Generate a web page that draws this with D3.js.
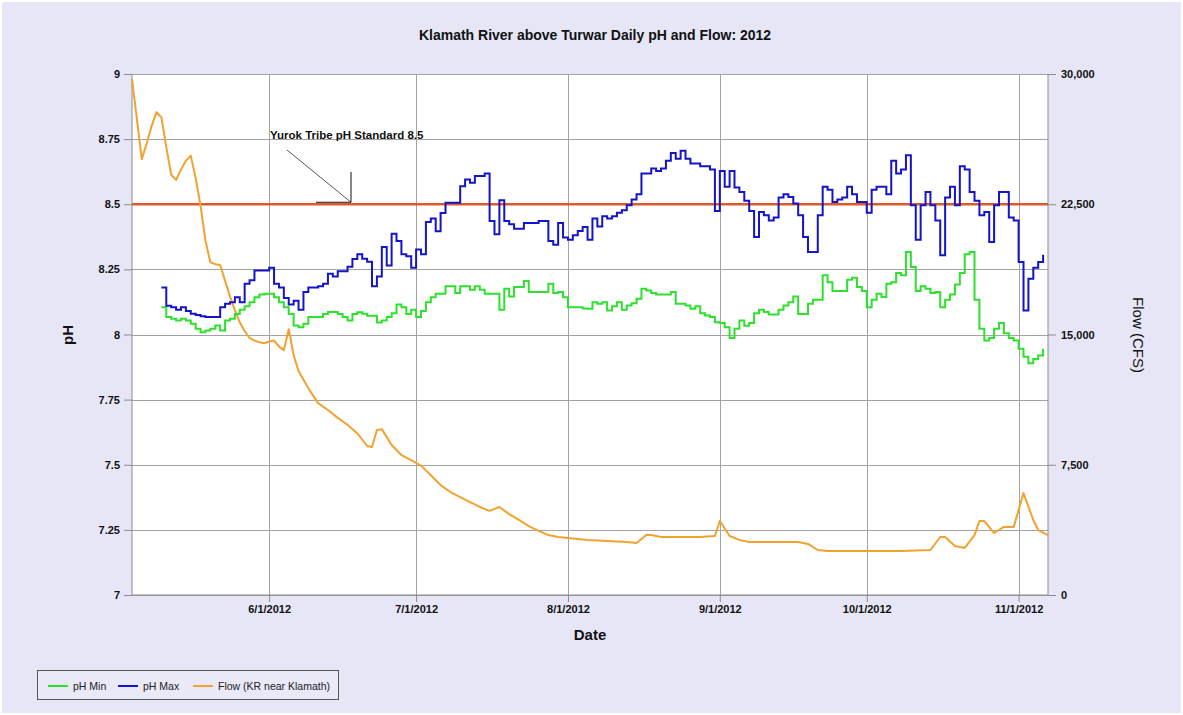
<!DOCTYPE html>
<html><head><meta charset="utf-8">
<script src="https://cdn.jsdelivr.net/npm/d3@7"></script>
<style>
body{margin:0;background:#fff;}
svg{display:block;font-family:"Liberation Sans",Arial,sans-serif;}
</style>
</head><body>
<svg id="c" width="1183" height="715"></svg>
<script>
// ---------------- DATA ----------------
const chartTitle = "Klamath River above Turwar Daily pH and Flow: 2012";
const phStartDate = "2012-05-10"; // first daily pH value
const phMax = [
8.18,8.11,8.105,8.095,8.105,8.09,8.08,8.075,8.07,8.067,8.067,8.067,8.105,8.118,8.124,8.143,8.124,8.195,8.208,8.246,
8.246,8.246,8.256,8.195,8.18,8.14,8.115,8.13,8.095,8.163,8.18,8.18,8.185,8.195,8.233,8.223,8.243,8.243,8.26,8.29,
8.308,8.291,8.279,8.185,8.223,8.336,8.265,8.387,8.359,8.308,8.30,8.256,8.326,8.308,8.432,8.445,8.396,8.466,8.506,8.506,
8.506,8.569,8.595,8.583,8.608,8.608,8.618,8.436,8.385,8.515,8.436,8.423,8.406,8.406,8.428,8.428,8.428,8.436,8.436,8.359,
8.345,8.428,8.372,8.364,8.381,8.397,8.413,8.364,8.445,8.415,8.454,8.445,8.454,8.467,8.477,8.496,8.518,8.538,8.618,8.618,
8.637,8.628,8.637,8.667,8.697,8.675,8.705,8.675,8.656,8.656,8.646,8.646,8.633,8.474,8.628,8.567,8.628,8.564,8.547,8.513,
8.474,8.374,8.47,8.458,8.438,8.449,8.526,8.538,8.528,8.503,8.458,8.374,8.317,8.317,8.458,8.567,8.556,8.509,8.518,8.526,
8.567,8.538,8.509,8.509,8.467,8.556,8.567,8.567,8.538,8.667,8.618,8.633,8.688,8.496,8.364,8.496,8.547,8.496,8.438,8.304,
8.526,8.567,8.496,8.646,8.633,8.547,8.513,8.458,8.47,8.355,8.496,8.547,8.547,8.449,8.438,8.278,8.092,8.214,8.256,8.278,
8.306];
const phMin = [
8.105,8.067,8.06,8.054,8.06,8.054,8.041,8.022,8.009,8.015,8.022,8.035,8.015,8.054,8.06,8.079,8.095,8.108,8.124,8.143,
8.154,8.156,8.156,8.143,8.124,8.105,8.079,8.035,8.028,8.041,8.067,8.067,8.067,8.079,8.086,8.086,8.079,8.067,8.054,8.079,
8.085,8.08,8.072,8.072,8.046,8.054,8.067,8.082,8.115,8.105,8.079,8.095,8.067,8.09,8.124,8.143,8.156,8.156,8.185,8.185,
8.159,8.185,8.185,8.172,8.185,8.172,8.156,8.156,8.156,8.095,8.176,8.146,8.182,8.182,8.205,8.163,8.163,8.163,8.163,8.195,
8.159,8.163,8.143,8.105,8.105,8.105,8.10,8.099,8.124,8.118,8.124,8.092,8.108,8.124,8.095,8.111,8.12,8.137,8.176,8.169,
8.159,8.154,8.154,8.154,8.163,8.118,8.118,8.111,8.099,8.108,8.082,8.073,8.067,8.047,8.044,8.028,7.987,8.022,8.054,8.034,
8.044,8.082,8.095,8.086,8.077,8.077,8.095,8.111,8.124,8.146,8.079,8.079,8.118,8.133,8.133,8.227,8.201,8.167,8.167,8.167,
8.21,8.218,8.182,8.167,8.105,8.133,8.156,8.144,8.195,8.201,8.236,8.227,8.317,8.259,8.167,8.185,8.176,8.159,8.163,8.105,
8.133,8.154,8.192,8.236,8.308,8.317,8.133,8.022,7.977,7.987,8.022,8.044,8.005,7.987,7.977,7.945,7.915,7.89,7.906,7.919,
7.945];
const flowDates = [
"2012-05-04","2012-05-05","2012-05-06","2012-05-07","2012-05-08","2012-05-09","2012-05-10","2012-05-11","2012-05-12","2012-05-13",
"2012-05-14","2012-05-15","2012-05-16","2012-05-17","2012-05-18","2012-05-19","2012-05-20","2012-05-21","2012-05-22","2012-05-23",
"2012-05-24","2012-05-25","2012-05-26","2012-05-27","2012-05-28","2012-05-29","2012-05-30","2012-05-31","2012-06-01","2012-06-02",
"2012-06-03","2012-06-04","2012-06-05","2012-06-06","2012-06-07","2012-06-09","2012-06-11","2012-06-13","2012-06-15","2012-06-17",
"2012-06-19","2012-06-21","2012-06-22","2012-06-23","2012-06-24","2012-06-26","2012-06-28","2012-06-30","2012-07-02","2012-07-04",
"2012-07-06","2012-07-08","2012-07-10","2012-07-12","2012-07-14","2012-07-16","2012-07-18","2012-07-20","2012-07-22","2012-07-24",
"2012-07-26","2012-07-28","2012-07-30","2012-08-01","2012-08-05","2012-08-09","2012-08-13","2012-08-15","2012-08-17","2012-08-18",
"2012-08-20","2012-08-24","2012-08-28","2012-08-31","2012-09-01","2012-09-03","2012-09-05","2012-09-07","2012-09-11","2012-09-17",
"2012-09-19","2012-09-21","2012-09-23","2012-09-29","2012-10-08","2012-10-14","2012-10-16","2012-10-17","2012-10-19","2012-10-21",
"2012-10-23","2012-10-24","2012-10-25","2012-10-27","2012-10-29","2012-10-31","2012-11-02","2012-11-04","2012-11-05","2012-11-07"];
const flowValues = [
29700,27400,25100,26000,27000,27800,27500,25800,24200,23900,
24500,25000,25300,24000,22400,20400,19150,19050,19000,18100,
17200,16400,15700,15200,14800,14650,14550,14500,14600,14650,
14300,14100,15300,13800,12900,11900,11050,10650,10200,9800,
9300,8580,8520,9500,9550,8640,8060,7770,7450,6900,
6330,5930,5640,5350,5070,4840,5070,4660,4320,3970,
3690,3450,3340,3280,3170,3110,3050,2990,3450,3450,
3340,3340,3340,3400,4260,3400,3170,3050,3050,3050,
2940,2590,2530,2530,2530,2590,3340,3340,2820,2710,
3450,4260,4260,3570,3920,3920,5870,4320,3740,3450];
const phTicks = [7,7.25,7.5,7.75,8,8.25,8.5,8.75,9];
const phTickLabels = ["7","7.25","7.5","7.75","8","8.25","8.5","8.75","9"];
const flowTicks = [0,7500,15000,22500,30000];
const flowTickLabels = ["0","7,500","15,000","22,500","30,000"];
const dateTicks = ["2012-06-01","2012-07-01","2012-08-01","2012-09-01","2012-10-01","2012-11-01"];
const dateTickLabels = ["6/1/2012","7/1/2012","8/1/2012","9/1/2012","10/1/2012","11/1/2012"];
const xDomain = ["2012-05-04","2012-11-07"];
const phStandard = 8.5;
const annotationText = "Yurok Tribe pH Standard 8.5";
const legendLabels = ["pH Min","pH Max","Flow (KR near Klamath)"];

// ---------------- DRAW ----------------
const parse = d3.utcParse("%Y-%m-%d");
const W = 1183, H = 715;
const L = 132, R = 1048, T = 74, B = 595;
const colMin = "#2FE02F", colMax = "#1414C8", colFlow = "#F2A230", colStd = "#DD5A2C";
const svg = d3.select("#c");

svg.append("rect").attr("width",W).attr("height",H).attr("fill","#fff");
svg.append("rect").attr("x",2).attr("y",2).attr("width",W-4).attr("height",H-4).attr("fill","#E6E6F7");

const x = d3.scaleUtc().domain(xDomain.map(parse)).range([L,R]);
const y = d3.scaleLinear().domain([7,9]).range([B,T]);
const y2 = d3.scaleLinear().domain([0,30000]).range([B,T]);

svg.append("rect").attr("x",L).attr("y",T).attr("width",R-L).attr("height",B-T).attr("fill","#fff");

// grid
const grid = svg.append("g").attr("stroke","#A3A3A3").attr("stroke-width",1).attr("shape-rendering","crispEdges");
phTicks.forEach(v=>grid.append("line").attr("x1",L).attr("x2",R).attr("y1",Math.round(y(v))+0.5).attr("y2",Math.round(y(v))+0.5));
dateTicks.forEach(d=>grid.append("line").attr("x1",Math.round(x(parse(d)))+0.5).attr("x2",Math.round(x(parse(d)))+0.5).attr("y1",T).attr("y2",B));

// axes
const fmtIdx = (arr, labels) => (d,i)=>labels[i];
const gL = svg.append("g").attr("transform",`translate(${L},0)`)
  .call(d3.axisLeft(y).tickValues(phTicks).tickFormat(fmtIdx(phTicks,phTickLabels)).tickSize(8).tickPadding(4));
const gR = svg.append("g").attr("transform",`translate(${R},0)`)
  .call(d3.axisRight(y2).tickValues(flowTicks).tickFormat(fmtIdx(flowTicks,flowTickLabels)).tickSize(8).tickPadding(5));
const gB = svg.append("g").attr("transform",`translate(0,${B})`)
  .call(d3.axisBottom(x).tickValues(dateTicks.map(parse)).tickFormat(fmtIdx(dateTicks,dateTickLabels)).tickSize(7).tickPadding(3));
[gL,gR,gB].forEach(g=>{
  g.select(".domain").attr("stroke","#8C8C8C");
  g.selectAll(".tick line").attr("stroke","#8C8C8C");
  g.selectAll(".tick text").attr("fill","#111").attr("font-size","11px").attr("font-weight","bold")
    .attr("font-family","'Liberation Sans',Arial,sans-serif");
});
gL.select(".domain").attr("d",`M0,${T}V${B}`);
gR.select(".domain").attr("d",`M0,${T}V${B}`);
gB.select(".domain").attr("d",`M${L},0H${R}`);

// standard line
svg.append("line").attr("x1",L).attr("x2",R).attr("y1",y(phStandard)).attr("y2",y(phStandard))
  .attr("stroke",colStd).attr("stroke-width",2.5);

// series
const phDates = phMax.map((v,i)=>d3.utcDay.offset(parse(phStartDate),i));
const stepLine = d3.line().curve(d3.curveStepAfter).x(d=>x(d[0])).y(d=>y(d[1]));
const flowLine = d3.line().x(d=>x(d[0])).y(d=>y2(d[1]));
const plot = svg.append("g");
plot.append("path").attr("d",flowLine(flowDates.map((d,i)=>[parse(d),flowValues[i]])))
  .attr("fill","none").attr("stroke",colFlow).attr("stroke-width",2).attr("stroke-linejoin","round");
plot.append("path").attr("d",stepLine(phMin.map((v,i)=>[phDates[i],v])))
  .attr("fill","none").attr("stroke",colMin).attr("stroke-width",2);
plot.append("path").attr("d",stepLine(phMax.map((v,i)=>[phDates[i],v])))
  .attr("fill","none").attr("stroke",colMax).attr("stroke-width",2);

// annotation
svg.append("text").attr("x",270).attr("y",139).attr("font-size","11.5px").attr("font-weight","bold")
  .attr("fill","#111").text(annotationText);
const ay = y(phStandard) - 2;
svg.append("line").attr("x1",287).attr("y1",150).attr("x2",351).attr("y2",ay).attr("stroke","#555").attr("stroke-width",1);
svg.append("line").attr("x1",351).attr("y1",172).attr("x2",351).attr("y2",ay).attr("stroke","#111").attr("stroke-width",1);
svg.append("line").attr("x1",316).attr("y1",ay).attr("x2",351).attr("y2",ay).attr("stroke","#111").attr("stroke-width",1);

// titles
svg.append("text").attr("x",595).attr("y",40).attr("text-anchor","middle").attr("font-size","14px")
  .attr("font-weight","bold").attr("fill","#111").text(chartTitle);
svg.append("text").attr("x",590).attr("y",640).attr("text-anchor","middle").attr("font-size","15px")
  .attr("font-weight","bold").attr("fill","#111").text("Date");
svg.append("text").attr("transform","translate(73,335) rotate(-90)").attr("text-anchor","middle").attr("font-size","15px")
  .attr("font-weight","bold").attr("fill","#111").text("pH");
svg.append("text").attr("transform","translate(1133,335) rotate(90)").attr("text-anchor","middle").attr("font-size","15px")
  .attr("fill","#111").text("Flow (CFS)");

// legend
const lg = svg.append("g");
lg.append("rect").attr("x",37.5).attr("y",670.5).attr("width",301).attr("height",29).attr("fill","#E9E9F8").attr("stroke","#555");
const lx = [48,118,193], tx = [73,143,218], lc = [colMin,colMax,colFlow];
legendLabels.forEach((t,i)=>{
  lg.append("line").attr("x1",lx[i]).attr("x2",lx[i]+20).attr("y1",686).attr("y2",686).attr("stroke",lc[i]).attr("stroke-width",2);
  lg.append("text").attr("x",tx[i]).attr("y",689.5).attr("font-size","10.5px").attr("fill","#222").text(t);
});
</script>
</body></html>
